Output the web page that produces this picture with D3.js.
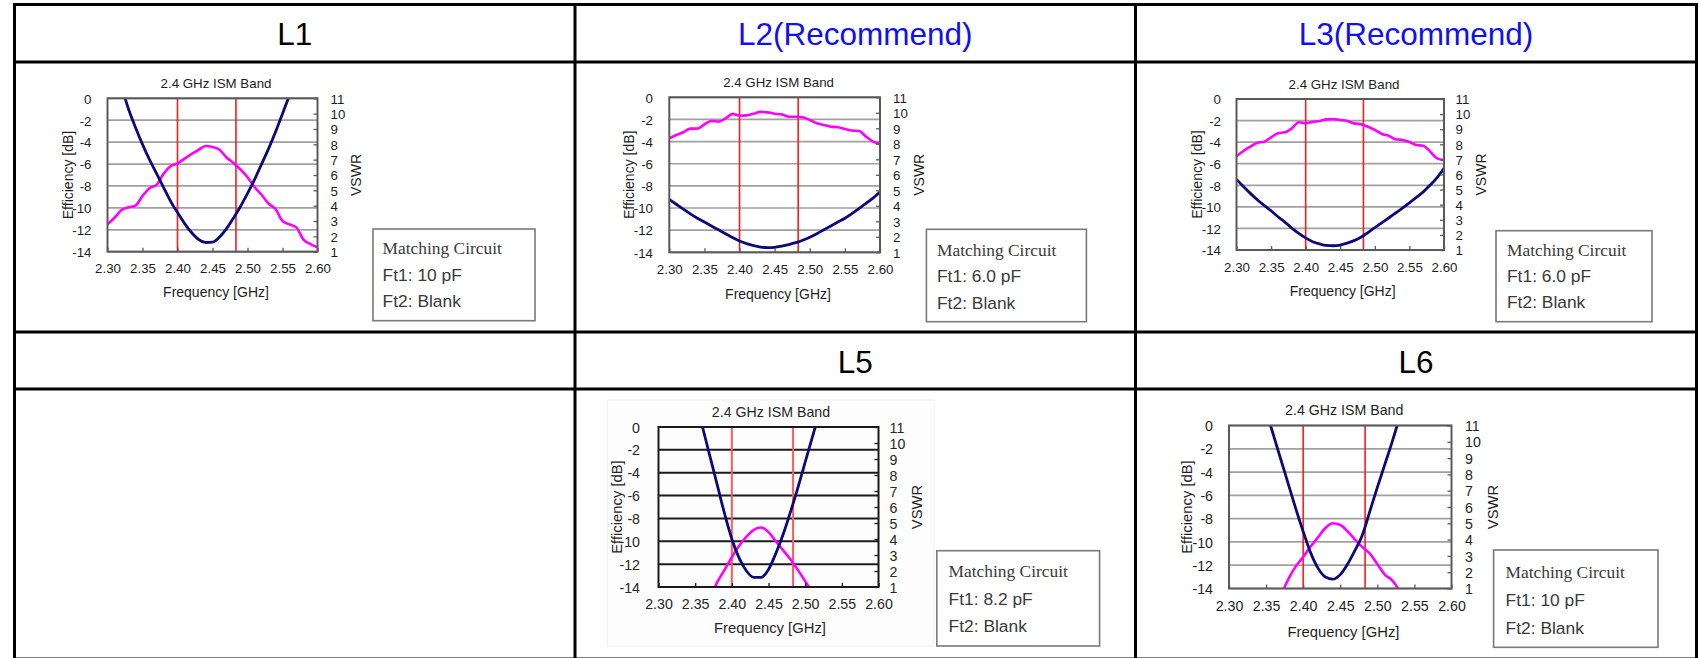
<!DOCTYPE html>
<html>
<head>
<meta charset="utf-8">
<script src="https://cdn.jsdelivr.net/npm/d3@7"></script>
<style>
  html, body { margin: 0; padding: 0; background: #ffffff; }
  svg { display: block; }
</style>
</head>
<body>
<svg id="chart" width="1699" height="658"></svg>
<script>
// ---- data ---------------------------------------------------------------
const freq = [2.30, 2.31, 2.32, 2.33, 2.34, 2.35, 2.36, 2.37, 2.38, 2.39, 2.40,
              2.41, 2.42, 2.43, 2.44, 2.45, 2.46, 2.47, 2.48, 2.49, 2.50,
              2.51, 2.52, 2.53, 2.54, 2.55, 2.56, 2.57, 2.58, 2.59, 2.60];
const freqTicks = [2.30, 2.35, 2.40, 2.45, 2.50, 2.55, 2.60];
const effTicks = [0, -2, -4, -6, -8, -10, -12, -14];
const vswrTicks = [1, 2, 3, 4, 5, 6, 7, 8, 9, 10, 11];
const bandEdges = [2.400, 2.4835];

const headerLabels = ["L1", "L2(Recommend)", "L3(Recommend)", "", "L5", "L6"];
const ft1Values = ["10 pF", "6.0 pF", "6.0 pF", "", "8.2 pF", "10 pF"];
const ft2Values = ["Blank", "Blank", "Blank", "", "Blank", "Blank"];

// efficiency [dB] and VSWR sampled on freq (null = outside the plotted range)
const effL1 = [-11.5, -10.9, -10.2, -9.95, -9.8, -8.9, -8.2, -7.9, -6.9, -6.2, -5.95,
               -5.5, -5.1, -4.7, -4.35, -4.45, -4.7, -5.4, -5.9, -6.5, -7.2,
               -8.1, -8.8, -9.6, -10.1, -11.2, -11.5, -11.8, -12.9, -13.3, -13.6];
const vswrL1 = [null, null, 11.8, 10.3, 9.1, 8.0, 7.0, 6.1, 5.2, 4.3, 3.55,
                2.85, 2.25, 1.8, 1.6, 1.62, 1.95, 2.5, 3.2, 3.95, 4.8,
                5.7, 6.7, 7.7, 8.8, 10.0, 11.2, null, null, null, null];

const effL2 = [-3.7, -3.4, -3.16, -2.83, -2.83, -2.44, -2.14, -2.2, -1.9, -1.5, -1.66,
               -1.63, -1.48, -1.32, -1.36, -1.48, -1.54, -1.75, -1.75, -1.8, -2.05,
               -2.35, -2.5, -2.65, -2.7, -2.86, -3.0, -3.04, -3.55, -4.0, -4.2];
const vswrL2 = [4.42, 4.1, 3.78, 3.48, 3.2, 2.95, 2.7, 2.45, 2.2, 1.95, 1.73,
                1.56, 1.43, 1.34, 1.3, 1.32, 1.4, 1.5, 1.62, 1.78, 1.97,
                2.2, 2.45, 2.7, 2.95, 3.2, 3.5, 3.82, 4.15, 4.5, 4.88];

const effL3 = [-5.3, -4.82, -4.42, -4.05, -3.96, -3.55, -3.18, -3.09, -2.72, -2.16, -2.26,
               -2.13, -2.04, -1.89, -1.85, -1.95, -2.04, -2.26, -2.35, -2.57, -2.87,
               -3.24, -3.4, -3.74, -3.8, -3.99, -4.27, -4.33, -4.88, -5.5, -5.66];
const vswrL3 = [5.68, 5.2, 4.75, 4.33, 3.95, 3.6, 3.2, 2.85, 2.45, 2.1, 1.8,
                1.55, 1.4, 1.3, 1.28, 1.33, 1.45, 1.62, 1.85, 2.15, 2.48,
                2.8, 3.12, 3.45, 3.78, 4.12, 4.48, 4.85, 5.3, 5.8, 6.41];

const effL5 = [null, null, null, null, null, null, null, -15.0, -13.6, -12.5, -11.4,
               -10.4, -9.6, -9.0, -8.8, -9.2, -10.0, -10.8, -11.6, -12.5, -13.5,
               -14.5, null, null, null, null, null, null, null, null, null];
const vswrL5 = [null, null, null, null, null, 12.8, 11.0, 9.2, 7.4, 5.6, 4.0,
                2.8, 2.0, 1.6, 1.6, 2.1, 3.1, 4.3, 5.7, 7.2, 8.8,
                10.4, 12.0, null, null, null, null, null, null, null, null];

const effL6 = [null, null, null, null, null, null, null, -14.6, -13.2, -12.1, -11.3,
               -10.4, -9.6, -8.8, -8.4, -8.55, -9.1, -9.8, -10.45, -11.0, -11.9,
               -12.8, -13.3, -14.2, null, null, null, null, null, null, null];
const vswrL6 = [null, null, null, null, null, 11.9, 10.4, 8.9, 7.4, 5.9, 4.5,
                3.2, 2.25, 1.7, 1.57, 1.85, 2.5, 3.35, 4.3, 5.75, 7.2,
                8.6, 10.0, 11.5, null, null, null, null, null, null, null];

// ---- layout -------------------------------------------------------------
const svg = d3.select("#chart");
const SANS = "'Liberation Sans', Arial, Helvetica, sans-serif";
const SERIF = "'Liberation Serif', 'Times New Roman', serif";

const colX = [14.5, 575, 1135.5, 1696.5];
const rowY = [4.5, 62, 332, 389, 659];

const panels = [
  { eff: effL1, vswr: vswrL1, cell: 0,
    x0: 107.5, x1: 317.5, y0: 98.3, y1: 251.7, fs: 13.3, fsT: 14,
    titleX: 216, titleY: 87.5, yLabEnd: 91.5, rLabStart: 330.5,
    effX: 72.7, vswrX: 361, tickY: 273, freqX: 216, freqY: 297,
    box: { x: 373, y: 229, w: 162, h: 91.7, tx: 382.6, b: [254, 281, 307] } },
  { eff: effL2, vswr: vswrL2, cell: 1,
    x0: 669.3, x1: 880, y0: 97.3, y1: 252.3, fs: 13.3, fsT: 14,
    titleX: 778.6, titleY: 87, yLabEnd: 653, rLabStart: 893,
    effX: 634, vswrX: 924, tickY: 274, freqX: 778, freqY: 298.5,
    box: { x: 926.4, y: 229.3, w: 160, h: 92.4, tx: 937, b: [256, 282, 309] } },
  { eff: effL3, vswr: vswrL3, cell: 2,
    x0: 1236.5, x1: 1444, y0: 99, y1: 250, fs: 13.3, fsT: 14,
    titleX: 1344, titleY: 88.8, yLabEnd: 1221, rLabStart: 1455.5,
    effX: 1202, vswrX: 1486, tickY: 272, freqX: 1342.7, freqY: 295.5,
    box: { x: 1496, y: 230.7, w: 156, h: 91, tx: 1507, b: [256, 282, 308] } },
  { eff: effL5, vswr: vswrL5, cell: 4, heavy: true,
    x0: 658.5, x1: 878.5, y0: 427, y1: 587, fs: 14.2, fsT: 14.8,
    titleX: 771, titleY: 417, yLabEnd: 640, rLabStart: 889.6,
    effX: 621.6, vswrX: 922, tickY: 609, freqX: 770, freqY: 633.3,
    box: { x: 936.8, y: 550.7, w: 162.8, h: 95.3, tx: 948.6, b: [576.7, 604.5, 632] } },
  { eff: effL6, vswr: vswrL6, cell: 5,
    x0: 1229, x1: 1451.5, y0: 425.5, y1: 588.5, fs: 14.2, fsT: 14.8,
    titleX: 1344.2, titleY: 415.3, yLabEnd: 1213, rLabStart: 1465,
    effX: 1191.6, vswrX: 1498, tickY: 611, freqX: 1343.5, freqY: 636.7,
    box: { x: 1493.6, y: 550, w: 164.4, h: 97.3, tx: 1505.6, b: [578, 606, 634] } }
];

const defs = svg.append("defs");

// ---- table --------------------------------------------------------------
// the L5 plot sits on a slightly tinted pasted panel
svg.append("rect")
  .attr("x", 607.5).attr("y", 400).attr("width", 326.5).attr("height", 246)
  .attr("fill", "#fdfdfd").attr("stroke", "#f0f0f0").attr("stroke-width", 1);

const table = svg.append("g").attr("stroke", "#000").attr("stroke-width", 3);
rowY.forEach(y => table.append("line")
  .attr("x1", colX[0] - 1.5).attr("x2", colX[3] + 1.5).attr("y1", y).attr("y2", y));
colX.forEach(x => table.append("line")
  .attr("x1", x).attr("x2", x).attr("y1", rowY[0] - 1.5).attr("y2", rowY[4]));

headerLabels.forEach((label, i) => {
  const c = i % 3, r = Math.floor(i / 3);
  svg.append("text")
    .attr("x", (colX[c] + colX[c + 1]) / 2)
    .attr("y", r === 0 ? rowY[0] + 40.5 : rowY[2] + 40.5)
    .attr("text-anchor", "middle")
    .attr("font-family", SANS).attr("font-size", 31.5)
    .attr("fill", label.includes("Recommend") ? "#1010f0" : "#000")
    .text(label);
});

// plain hyphen-minus labels, as in the spreadsheet-style axes
const plainInt = d => String(d);

// ---- panels -------------------------------------------------------------
panels.forEach((p, k) => {
  const g = svg.append("g");
  const gridColor = p.heavy ? "#1a1a1a" : "#a0a0a0";
  const frameColor = p.heavy ? "#1a1a1a" : "#5a5a5a";
  const textColor = p.heavy ? "#262626" : "#1e1e1e";

  const x = d3.scaleLinear().domain([2.30, 2.60]).range([p.x0, p.x1]);
  const yE = d3.scaleLinear().domain([-14, 0]).range([p.y1, p.y0]);
  const yV = d3.scaleLinear().domain([1, 11]).range([p.y1, p.y0]);

  const clipId = "plot-clip-" + k;
  defs.append("clipPath").attr("id", clipId).append("rect")
    .attr("x", p.x0).attr("y", p.y0).attr("width", p.x1 - p.x0).attr("height", p.y1 - p.y0);

  // horizontal grid on the efficiency scale
  g.append("g").selectAll("line").data(effTicks).join("line")
    .attr("x1", p.x0).attr("x2", p.x1)
    .attr("y1", d => yE(d)).attr("y2", d => yE(d))
    .attr("stroke", gridColor).attr("stroke-width", p.heavy ? 2 : 1.7);

  // ISM band edges
  g.append("g").selectAll("line").data(bandEdges).join("line")
    .attr("x1", d => x(d)).attr("x2", d => x(d))
    .attr("y1", p.y0).attr("y2", p.y1)
    .attr("stroke", p.heavy ? "#ff5a5a" : "#ff1a1a")
    .attr("stroke-width", p.heavy ? 2 : 1.6);

  const plot = g.append("g").attr("clip-path", `url(#${clipId})`);
  const effLine = d3.line()
    .defined(d => d[1] != null)
    .x(d => x(d[0])).y(d => yE(d[1]))
    .curve(d3.curveMonotoneX);
  const vswrLine = d3.line()
    .defined(d => d[1] != null)
    .x(d => x(d[0])).y(d => yV(d[1]))
    .curve(d3.curveMonotoneX);

  plot.append("path")
    .datum(freq.map((f, i) => [f, p.eff[i]]))
    .attr("d", effLine)
    .attr("fill", "none").attr("stroke", "#ff00ff")
    .attr("stroke-width", 2.6).attr("stroke-linejoin", "round");
  plot.append("path")
    .datum(freq.map((f, i) => [f, p.vswr[i]]))
    .attr("d", vswrLine)
    .attr("fill", "none").attr("stroke", "#0a0a78")
    .attr("stroke-width", 2.8).attr("stroke-linejoin", "round");

  // plot frame
  g.append("rect")
    .attr("x", p.x0).attr("y", p.y0).attr("width", p.x1 - p.x0).attr("height", p.y1 - p.y0)
    .attr("fill", "none").attr("stroke", frameColor).attr("stroke-width", 2);

  const styleAxis = sel => {
    sel.select(".domain").remove();
    sel.selectAll(".tick line").attr("stroke", frameColor).attr("stroke-width", 1.3);
    sel.selectAll("text").attr("fill", textColor)
      .attr("font-family", SANS).attr("font-size", p.fs);
  };

  // frequency axis
  g.append("g")
    .attr("transform", `translate(0,${p.y1})`)
    .call(d3.axisBottom(x).tickValues(freqTicks).tickFormat(d3.format(".2f"))
      .tickSize(-4).tickPadding(0))
    .call(styleAxis)
    .call(s => s.selectAll("text").attr("y", p.tickY - p.y1).attr("dy", null));

  // efficiency axis
  g.append("g")
    .attr("transform", `translate(${p.x0},0)`)
    .call(d3.axisLeft(yE).tickValues(effTicks).tickFormat(plainInt)
      .tickSize(0).tickPadding(p.x0 - p.yLabEnd))
    .call(styleAxis)
    .call(s => s.selectAll("text").attr("dy", "0.36em"));

  // VSWR axis
  g.append("g")
    .attr("transform", `translate(${p.x1},0)`)
    .call(d3.axisRight(yV).tickValues(vswrTicks).tickFormat(plainInt)
      .tickSize(-4).tickPadding(p.rLabStart - p.x1))
    .call(styleAxis)
    .call(s => s.selectAll("text").attr("dy", "0.36em"));

  // titles
  g.append("text")
    .attr("x", p.titleX).attr("y", p.titleY).attr("text-anchor", "middle")
    .attr("font-family", SANS).attr("font-size", p.fs).attr("fill", textColor)
    .text("2.4 GHz ISM Band");
  g.append("text")
    .attr("x", p.freqX).attr("y", p.freqY).attr("text-anchor", "middle")
    .attr("font-family", SANS).attr("font-size", p.fsT).attr("fill", textColor)
    .text("Frequency [GHz]");
  g.append("text")
    .attr("transform", `translate(${p.effX},${(p.y0 + p.y1) / 2}) rotate(-90)`)
    .attr("text-anchor", "middle")
    .attr("font-family", SANS).attr("font-size", p.fsT).attr("fill", textColor)
    .text("Efficiency [dB]");
  g.append("text")
    .attr("transform", `translate(${p.vswrX},${(p.y0 + p.y1) / 2}) rotate(-90)`)
    .attr("text-anchor", "middle")
    .attr("font-family", SANS).attr("font-size", p.fsT).attr("fill", textColor)
    .text("VSWR");

  // matching circuit note
  const b = p.box;
  g.append("rect")
    .attr("x", b.x).attr("y", b.y).attr("width", b.w).attr("height", b.h)
    .attr("fill", "#fff").attr("stroke", "#7a7a7a").attr("stroke-width", 1.6);
  g.append("text")
    .attr("x", b.tx).attr("y", b.b[0])
    .attr("font-family", SERIF).attr("font-size", 17.4).attr("fill", "#3a3a3a")
    .text("Matching Circuit");
  g.append("text")
    .attr("x", b.tx).attr("y", b.b[1])
    .attr("font-family", SANS).attr("font-size", 17.4).attr("fill", "#3a3a3a")
    .text("Ft1: " + ft1Values[p.cell]);
  g.append("text")
    .attr("x", b.tx).attr("y", b.b[2])
    .attr("font-family", SANS).attr("font-size", 17.4).attr("fill", "#3a3a3a")
    .text("Ft2: " + ft2Values[p.cell]);
});
</script>
</body>
</html>
